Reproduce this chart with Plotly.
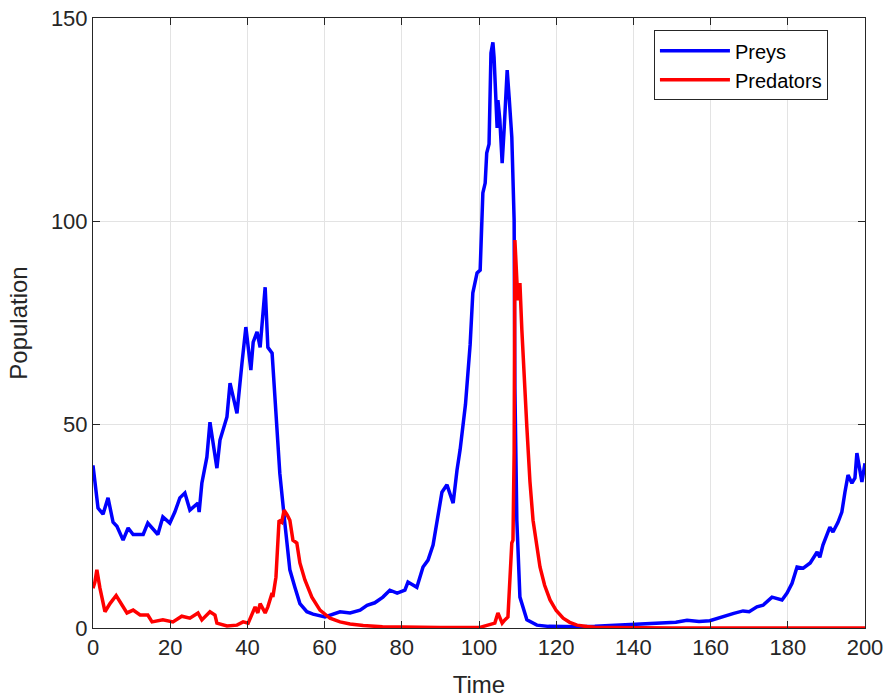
import plotly.graph_objects as go

# Preys: (time, population)
prey_t = [0, 1.3, 2.6, 3.9, 5.2, 6.2, 7.8, 9.1, 10.4, 13, 14.2, 16.8, 18.1, 19.9, 21.2, 22.5,
          23.8, 25.1, 27.2, 27.5, 28.2, 29.5, 30.3, 32.1, 32.9, 34.7, 35.5, 37.3, 38.6, 39.6,
          40.9, 41.5, 42.5, 43.3, 44.6, 45.3, 46.4, 47.2, 48.4, 49.7, 51, 52.3, 53.6, 55.4,
          57, 60.1, 62, 64, 66.6, 69.2, 71, 73, 75.1, 76.9, 78.8, 80.8, 81.6, 83.9, 85.5, 86.8, 88.1,
          89.4, 90.4, 91.7, 93.3, 94.3, 95.1, 96.5, 97.7, 98.4, 99.5, 100.3, 101, 101.6, 102, 102.6,
          103.1, 103.6, 103.9, 104.7, 104.9, 105.4, 106, 106.5, 107.3, 107.8, 108.5, 109.1,
          109.3, 109.8, 110.6, 112.4, 115, 118, 122, 126, 130, 134, 138, 140, 144, 148.7,
          151, 153.9, 157, 159.8, 162, 164.2, 166, 168.4, 170, 172, 173.6, 175.9, 178.5, 179.8,
          181.1, 182.4, 184, 185.8, 187.6, 188.3, 189.1, 190.9, 191.7, 193, 194, 194.8, 195.6,
          196.6, 197.4, 197.9, 199.2, 200]
prey_y = [40, 29.5, 28, 32, 26, 25, 21.6, 24.6, 23, 23, 25.8, 23, 27.3, 25.8, 28.5, 32,
          33.2, 29, 30.7, 28.5, 35.6, 42, 50.6, 39.3, 46.2, 51.9, 60.2, 52.8, 65.2, 74,
          63.4, 70.3, 72.8, 69, 83.8, 69, 67.6, 54.3, 38, 25.8, 14.3, 10, 6, 4,
          3.4, 2.7, 3.3, 4, 3.7, 4.4, 5.6, 6.2, 7.6, 9.3, 8.6, 9.3, 11.3, 10, 15, 16.7, 20.4,
          27.8, 33.4, 35.2, 30.7, 38.8, 43.8, 55, 69.6, 82.4, 87.3, 88, 107, 109.4, 116.8, 119,
          141.4, 144, 140.4, 123, 129.8, 125, 114.3, 122.4, 137.2, 130.6, 120.7, 100.3,
          59, 26.5, 7.6, 2, 0.7, 0.4, 0.3, 0.3, 0.4, 0.6, 0.8, 1.0, 1.2, 1.5,
          1.4, 1.9, 1.6, 1.8, 2.5, 3.2, 3.6, 4.2, 4.0, 5.2, 5.6, 7.6, 6.9, 8.6,
          11, 15, 14.7, 16, 18.7, 17.4, 20.4, 24.8, 23.6, 26, 28.5, 33.4, 37.6,
          35.6, 36.9, 43, 35.9, 40.5]

# Predators: (time, population)
pred_t = [0, 0.5, 1, 1.8, 3.1, 4.4, 6, 7.5, 8.8, 10.4, 12.2, 14.2, 15.3, 18.1, 20.7, 23,
          25.1, 27.2, 28.2, 30.3, 31.6, 32.1, 34.7, 37.3, 38.9, 40.2, 41.2, 42, 42.7, 43.3,
          44.6, 45.3, 46.4, 46.6, 47.4, 48.2, 48.9, 49.5, 50.3, 51, 51.8, 52.8, 53.6, 54.9,
          56.7, 58.8, 61.4, 64, 66.6, 70, 75, 80, 90, 100, 102.3, 104.1, 104.9, 106, 106.7,
          107.5, 108.5, 108.8, 109.1, 109.3, 109.8, 110.1, 110.6, 111.1, 112.4, 113.2, 114,
          115, 115.8, 117, 118.4, 120, 121.8, 123.5, 125.4, 128, 130, 135, 140, 150, 200]
pred_y = [9.8, 11.3, 14.3, 9.8, 4, 6, 8, 5.6, 3.7, 4.4, 3.2, 3.2, 1.5, 2, 1.5, 2.9,
          2.4, 3.7, 2, 4, 3.2, 1.2, 0.5, 0.7, 1.5, 1.2, 3.7, 5.2, 3.7, 6,
          3.7, 5.2, 8.6, 7.6, 12.5, 26.5, 26, 29, 27.8, 26.5, 21.6, 20.9, 16, 11.8,
          7.6, 4.4, 2.4, 1.5, 1, 0.6, 0.3, 0.2, 0.1, 0.1, 0.7, 1.2, 3.7, 1.2, 2,
          2.7, 20.9, 21.6, 43, 95.4, 85.6, 80.6, 84.8, 73.3, 49.4, 36, 26.5,
          19.5, 15, 10.5, 6.9, 4.3, 2.4, 1.4, 0.7, 0.35, 0.2, 0.1, 0.05, 0.03, 0.02]

x_ticks = [0, 20, 40, 60, 80, 100, 120, 140, 160, 180, 200]
y_ticks = [0, 50, 100, 150]

font_family = "Liberation Sans, Arial, Helvetica, sans-serif"
axis_color = "#262626"

fig = go.Figure()
fig.add_trace(go.Scatter(x=prey_t, y=prey_y, mode="lines", name="Preys",
                         line=dict(color="#0000ff", width=3.5)))
fig.add_trace(go.Scatter(x=pred_t, y=pred_y, mode="lines", name="Predators",
                         line=dict(color="#ff0000", width=3.5)))

axis_common = dict(
    showline=True, linecolor=axis_color, linewidth=1, mirror="ticks",
    ticks="inside", ticklen=7, tickwidth=1, tickcolor=axis_color,
    showgrid=True, gridcolor="#e3e3e3", gridwidth=1, zeroline=False,
    automargin=False, ticklabeloverflow="allow",
    tickfont=dict(family=font_family, size=22, color=axis_color),
)
fig.update_xaxes(range=[0, 200], tickvals=x_ticks,
                 title=dict(text="Time", font=dict(family=font_family, size=24, color=axis_color),
                            standoff=16),
                 **axis_common)
fig.update_yaxes(range=[0, 150], tickvals=y_ticks,
                 title=dict(text="Population", font=dict(family=font_family, size=24, color=axis_color),
                            standoff=16),
                 **axis_common)

fig.update_layout(
    width=885, height=698,
    margin=dict(l=93, r=20, t=18, b=70, autoexpand=False),
    plot_bgcolor="white", paper_bgcolor="white",
    showlegend=True,
    legend=dict(x=0.952, y=0.98, xanchor="right", yanchor="top",
                bgcolor="white", bordercolor=axis_color, borderwidth=1,
                font=dict(family=font_family, size=20, color="#000000"),
                itemwidth=70, tracegroupgap=0),
    font=dict(family=font_family),
)

# remove the default 8px page margin so the figure fills the 885x698 window
fig.write_html("out.html", config={"displayModeBar": False},
               post_script="document.body.style.margin='0';")
